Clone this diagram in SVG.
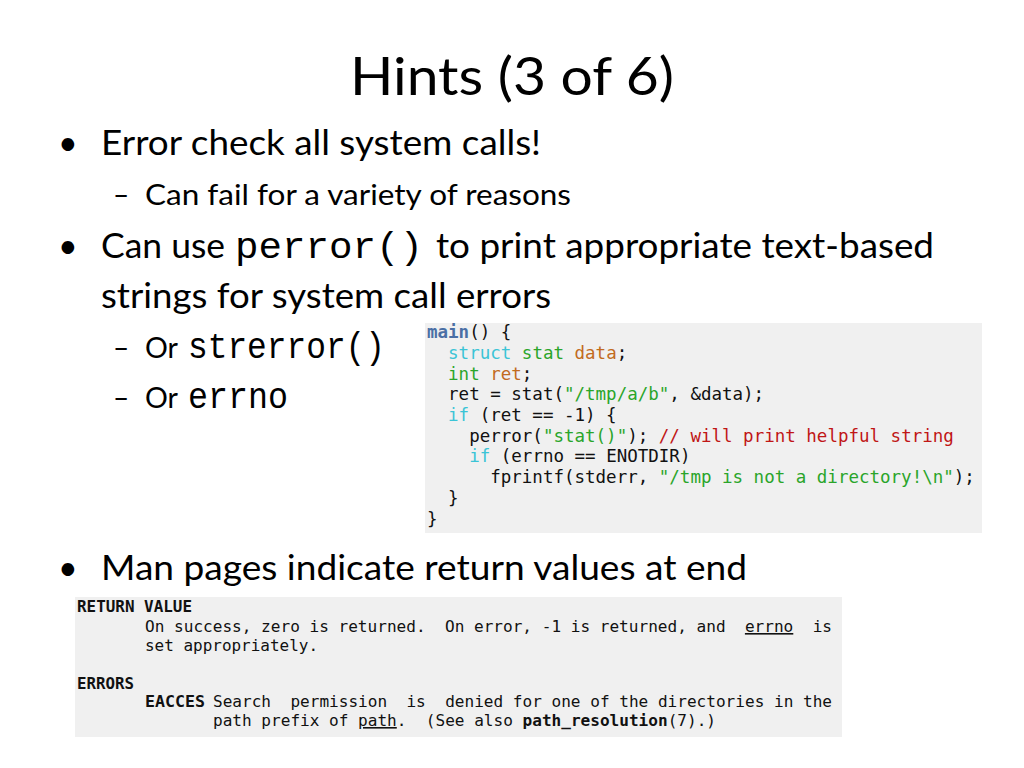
<svg xmlns="http://www.w3.org/2000/svg" width="1024" height="768" viewBox="0 0 1024 768">
<style>
.t{font-family:Lato,"Open Sans","Liberation Sans",sans-serif;fill:#000}
.b{font-size:34px}.s{font-size:28px}
.cm{font-family:"Liberation Mono","Courier New",monospace;font-size:36px;fill:#000}
.code{font-family:"DejaVu Sans Mono",monospace;font-size:17.5px;fill:#111}
.man{font-family:"DejaVu Sans Mono",monospace;font-size:16px;fill:#111}
.kw{fill:#3bc4d6}.ty{fill:#2aa52a}.id{fill:#c26b1e}.st{fill:#2aa52a}.cmt{fill:#c01616}.fn{fill:#4a6fa5;font-weight:bold}
</style>
<rect width="1024" height="768" fill="#fff"/>
<text class="t" x="350" y="95" font-size="52" textLength="324" lengthAdjust="spacingAndGlyphs">Hints (3 of 6)</text>
<g id="bullets">
<text class="t b" x="58" y="155">•</text>
<text class="t b" x="101" y="155" textLength="440" lengthAdjust="spacingAndGlyphs">Error check all system calls!</text>
<text class="t s" x="113" y="205">–</text>
<text class="t s" x="145" y="205" textLength="426" lengthAdjust="spacingAndGlyphs">Can fail for a variety of reasons</text>
<text class="t b" x="58" y="258">•</text>
<text class="t b" x="101" y="258" textLength="124" lengthAdjust="spacingAndGlyphs">Can use</text>
<text class="cm" x="235" y="258" textLength="188" lengthAdjust="spacingAndGlyphs">perror()</text>
<text class="t b" x="436" y="258" textLength="498" lengthAdjust="spacingAndGlyphs">to print appropriate text-based</text>
<text class="t b" x="101" y="308" textLength="450" lengthAdjust="spacingAndGlyphs">strings for system call errors</text>
<text class="t s" x="113" y="358">–</text>
<text class="t s" x="145" y="358" textLength="33" lengthAdjust="spacingAndGlyphs">Or</text>
<text class="cm" x="188" y="358" textLength="197" lengthAdjust="spacingAndGlyphs">strerror()</text>
<text class="t s" x="113" y="408">–</text>
<text class="t s" x="145" y="408" textLength="33" lengthAdjust="spacingAndGlyphs">Or</text>
<text class="cm" x="188" y="408" textLength="100" lengthAdjust="spacingAndGlyphs">errno</text>
<text class="t b" x="58" y="580">•</text>
<text class="t b" x="101" y="580" textLength="646" lengthAdjust="spacingAndGlyphs">Man pages indicate return values at end</text>
</g>
<g id="code">
<rect x="425" y="323" width="557" height="210" fill="#f0f0f0"/>
<text class="code" xml:space="preserve">
<tspan x="427" y="338"><tspan class="fn">main</tspan>() {</tspan>
<tspan x="427" y="359">  <tspan class="kw">struct</tspan> <tspan class="ty">stat</tspan> <tspan class="id">data</tspan>;</tspan>
<tspan x="427" y="380">  <tspan class="ty">int</tspan> <tspan class="id">ret</tspan>;</tspan>
<tspan x="427" y="400">  ret = stat(<tspan class="st">"/tmp/a/b"</tspan>, &amp;data);</tspan>
<tspan x="427" y="421">  <tspan class="kw">if</tspan> (ret == -1) {</tspan>
<tspan x="427" y="442">    perror(<tspan class="st">"stat()"</tspan>); <tspan class="cmt">// will print helpful string</tspan></tspan>
<tspan x="427" y="462">    <tspan class="kw">if</tspan> (errno == ENOTDIR)</tspan>
<tspan x="427" y="483">      fprintf(stderr, <tspan class="st">"/tmp is not a directory!\n"</tspan>);</tspan>
<tspan x="427" y="504">  }</tspan>
<tspan x="427" y="525">}</tspan>
</text>
</g>
<g id="manpage">
<rect x="75" y="597" width="767" height="140" fill="#f0f0f0"/>
<text class="man" x="77" y="612" font-weight="bold" textLength="115" lengthAdjust="spacingAndGlyphs">RETURN VALUE</text>
<text class="man" x="145" y="632" textLength="687" lengthAdjust="spacingAndGlyphs" xml:space="preserve">On success, zero is returned.  On error, -1 is returned, and  <tspan text-decoration="underline">errno</tspan>  is</text>
<text class="man" x="145" y="651" textLength="173" lengthAdjust="spacingAndGlyphs">set appropriately.</text>
<text class="man" x="77" y="689" font-weight="bold" textLength="57" lengthAdjust="spacingAndGlyphs">ERRORS</text>
<text class="man" x="145" y="707" font-weight="bold" textLength="60" lengthAdjust="spacingAndGlyphs">EACCES</text>
<text class="man" x="213" y="707" textLength="619" lengthAdjust="spacingAndGlyphs" xml:space="preserve">Search  permission  is  denied for one of the directories in the</text>
<text class="man" x="213" y="726" textLength="503" lengthAdjust="spacingAndGlyphs" xml:space="preserve">path prefix of <tspan text-decoration="underline">path</tspan>.  (See also <tspan font-weight="bold">path_resolution</tspan>(7).)</text>
</g>
</svg>
